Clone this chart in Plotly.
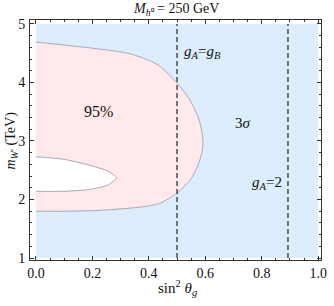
import plotly.graph_objects as go

# ---- data ----
x_extent = [0.0, 1.0]          # sin^2 theta_g range of the scan
y_extent = [1.0, 5.0]          # m_W' (TeV) range of the scan

# 95% region outer boundary
outer_x = [0.0, 0.1, 0.21, 0.326, 0.40, 0.442, 0.5, 0.535, 0.558, 0.577, 0.587, 0.592, 0.590, 0.581, 0.566, 0.546, 0.5, 0.442, 0.40, 0.326, 0.21, 0.1, 0.0]
outer_y = [4.69, 4.64, 4.58, 4.50, 4.38, 4.27, 3.99, 3.78, 3.59, 3.38, 3.19, 2.99, 2.85, 2.68, 2.50, 2.33, 2.11, 1.94, 1.89, 1.85, 1.81, 1.80, 1.80]

# excluded hole inside the 95% region
hole_x = [0.0, 0.095, 0.1875, 0.257, 0.285, 0.257, 0.1875, 0.095, 0.0]
hole_y = [2.73, 2.69, 2.59, 2.48, 2.37, 2.25, 2.17, 2.14, 2.14]

# reference lines
gA_eq_gB = 0.5
gA_eq_2 = 0.893

x_ticks = [0.0, 0.2, 0.4, 0.6, 0.8, 1.0]
y_ticks = [1, 2, 3, 4, 5]

FONT = "Liberation Serif"
BLUE = "#DCEDFD"
PINK = "#FFE9EA"
EDGE = "#A9A9B5"
TXT = "#111111"

fig = go.Figure()

# 3 sigma region (whole scan range)
fig.add_trace(go.Scatter(
    x=[x_extent[0], x_extent[1], x_extent[1], x_extent[0], x_extent[0]],
    y=[y_extent[0], y_extent[0], y_extent[1], y_extent[1], y_extent[0]],
    fill="toself", fillcolor=BLUE, line=dict(width=0), mode="lines",
    hoverinfo="skip", showlegend=False))

SM = 0.6
# 95% region
fig.add_trace(go.Scatter(
    x=outer_x, y=outer_y, fill="toself", fillcolor=PINK,
    line=dict(width=0, shape="spline", smoothing=SM), mode="lines",
    hoverinfo="skip", showlegend=False))
fig.add_trace(go.Scatter(
    x=outer_x, y=outer_y, mode="lines",
    line=dict(width=1, color=EDGE, shape="spline", smoothing=SM),
    hoverinfo="skip", showlegend=False))

# hole
fig.add_trace(go.Scatter(
    x=hole_x, y=hole_y, fill="toself", fillcolor="white",
    line=dict(width=0, shape="spline", smoothing=SM), mode="lines",
    hoverinfo="skip", showlegend=False))
fig.add_trace(go.Scatter(
    x=hole_x, y=hole_y, mode="lines",
    line=dict(width=1, color=EDGE, shape="spline", smoothing=SM),
    hoverinfo="skip", showlegend=False))

# dashed lines
for xv in [gA_eq_gB, gA_eq_2]:
    fig.add_trace(go.Scatter(
        x=[xv, xv], y=y_extent, mode="lines",
        line=dict(color="#222222", width=1.2, dash="5px,3px"),
        hoverinfo="skip", showlegend=False))

LBL = dict(family=FONT, size=15, color=TXT)
SMALL = dict(family=FONT, size=14, color=TXT)
annots = [
    dict(x=0.222, y=3.5, text="95%", xref="x", yref="y", showarrow=False, font=dict(family=FONT, size=16, color=TXT)),
    dict(x=0.732, y=3.31, text="3<i>σ</i>", xref="x", yref="y", showarrow=False, font=LBL),
    dict(x=0.589, y=4.52, text="<i>g</i><sub><i>A</i></sub>=<i>g</i><sub><i>B</i></sub>",
         xref="x", yref="y", showarrow=False, font=LBL),
    dict(x=0.818, y=2.28, text="<i>g</i><sub><i>A</i></sub>=2",
         xref="x", yref="y", showarrow=False, font=LBL),
    dict(x=0.5, y=-0.117, text="sin<sup>2</sup> <i>θ<sub>g</sub></i>",
         xref="x", yref="paper", yanchor="middle", showarrow=False, font=LBL),
    dict(x=-0.064, y=0.5, text="<i>m</i><sub><i>W</i>′</sub> (TeV)",
         xref="paper", yref="paper", textangle=-90, xanchor="center", yanchor="middle",
         showarrow=False, font=SMALL),
    dict(x=(179 - 30) / 297, y=1 + (20 - 10) / 240,
         text="<i>M</i><sub><i>h</i>⁰</sub> = 250 GeV",
         xref="paper", yref="paper", showarrow=False, yanchor="middle", font=SMALL),
]

axis_common = dict(
    showgrid=False, zeroline=False, showline=True, linecolor="#333333",
    linewidth=1, mirror="allticks", ticks="inside", ticklen=4,
    tickcolor="#333333", tickfont=dict(family=FONT, size=14, color=TXT),
)

fig.update_layout(
    width=334, height=306,
    margin=dict(l=30, r=7, t=20, b=46),
    plot_bgcolor="white", paper_bgcolor="white",
    font=dict(family=FONT),
    annotations=annots,
    hovermode=False,
    xaxis=dict(range=[-0.021, 1.01], tickvals=x_ticks,
               ticktext=[f"{v:.1f}" for v in x_ticks], ticklabeloverflow="allow",
               minor=dict(dtick=0.05, tick0=0, ticks="inside", ticklen=2, tickcolor="#333333"),
               **axis_common),
    yaxis=dict(range=[0.966, 5.068], tickvals=y_ticks,
               ticktext=[str(v) for v in y_ticks], ticklabelstandoff=1,
               minor=dict(dtick=0.2, tick0=1, ticks="inside", ticklen=2, tickcolor="#333333"),
               **axis_common),
)

fig.write_html("out.html", config={"displayModeBar": False, "staticPlot": True},
               post_script="document.body.style.margin='0';document.body.style.overflow='hidden';")
